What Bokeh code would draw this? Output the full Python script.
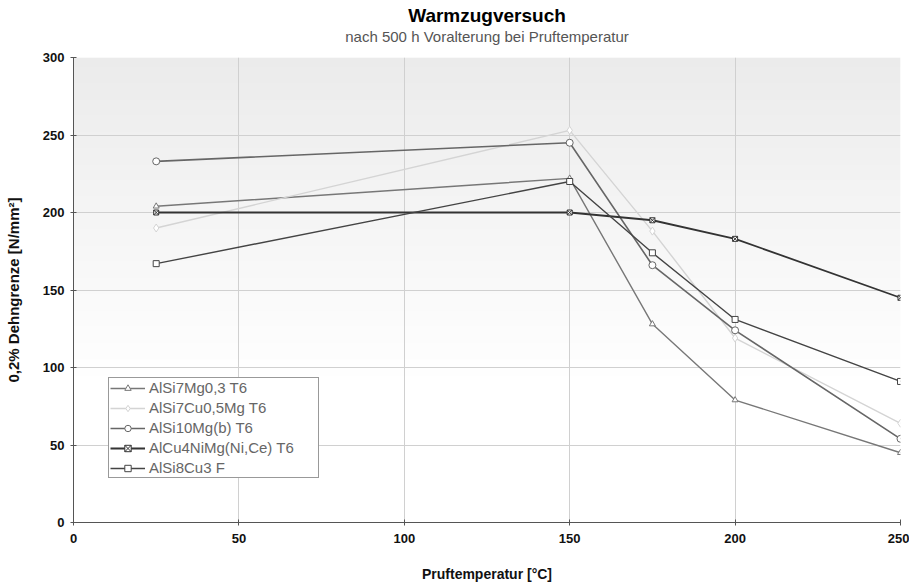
import numpy as np
from bokeh.plotting import figure
from bokeh.models import Title, Legend, LegendItem, FixedTicker
from bokeh.embed import file_html
from bokeh.resources import INLINE

temps = [25, 150, 175, 200, 250]
series_names = ["AlSi7Mg0,3 T6", "AlSi7Cu0,5Mg T6", "AlSi10Mg(b) T6", "AlCu4NiMg(Ni,Ce) T6", "AlSi8Cu3 F"]
alsi7mg = [204, 222, 128, 79, 45]
alsi7cu = [190, 253, 188, 119, 64]
alsi10mg = [233, 245, 166, 124, 54]
alcu4nimg = [200, 200, 195, 183, 145]
alsi8cu3 = [167, 220, 174, 131, 91]
x_ticks = [0, 50, 100, 150, 200, 250]
y_ticks = [0, 50, 100, 150, 200, 250, 300]

FONT = "Liberation Sans"

p = figure(width=909, height=575, x_range=(0, 250), y_range=(0, 300),
           output_backend="svg", toolbar_location=None,
           min_border_left=73, min_border_right=9, min_border_top=57, min_border_bottom=10)
p.frame_width = 827
p.frame_height = 465

# gradient background (light gray at top fading to white)
ny = 300
img = np.zeros((ny, 1), dtype=np.uint32)
view = img.view(dtype=np.uint8).reshape((ny, 1, 4))
for i in range(ny):
    t = i / (ny - 1)  # 0 bottom, 1 top
    f = max(0.0, (t - 0.3) / 0.7)
    c = int(round(255 - f * (255 - 235)))
    view[i, :, 0] = c
    view[i, :, 1] = c
    view[i, :, 2] = c
    view[i, :, 3] = 255
p.image_rgba(image=[img], x=0, y=0, dw=250, dh=300, level="image")

p.outline_line_color = None
p.background_fill_color = "white"
p.border_fill_color = "white"

sub = Title(text="nach 500 h Voralterung bei Pruftemperatur", align="center",
            text_font=FONT, text_font_size="15px", text_font_style="normal",
            text_color="#555555", standoff=25)
p.add_layout(sub, "above")
main = Title(text="Warmzugversuch", align="center", text_font=FONT,
             text_font_size="19px", text_font_style="bold", text_color="#000000",
             standoff=-24)
p.add_layout(main, "above")

for ax in (p.xaxis[0], p.yaxis[0]):
    ax.major_label_text_font = FONT
    ax.major_label_text_font_size = "13px"
    ax.major_label_text_font_style = "bold"
    ax.major_label_text_color = "#111111"
    ax.axis_label_text_font = FONT
    ax.axis_label_text_font_style = "bold"
    ax.axis_label_text_color = "#111111"
    ax.axis_line_color = "#555555"
    ax.major_tick_line_color = "#555555"
    ax.minor_tick_line_color = None
    ax.major_tick_in = 3
    ax.major_tick_out = 3

p.xaxis.axis_label_text_font_size = "14px"
p.yaxis.axis_label_text_font_size = "15px"
p.xaxis.ticker = FixedTicker(ticks=x_ticks)
p.yaxis.ticker = FixedTicker(ticks=y_ticks)
p.xaxis.axis_label = "Pruftemperatur [°C]"
p.yaxis.axis_label = "0,2% Dehngrenze [N/mm²]"
p.xaxis.axis_label_standoff = 20
p.yaxis.axis_label_standoff = 18
p.xaxis.major_label_standoff = 8
p.yaxis.major_label_standoff = 6

p.xgrid.grid_line_color = "#d0d0d0"
p.ygrid.grid_line_color = "#d0d0d0"

colors = ["#777777", "#d4d4d4", "#666666", "#333333", "#444444"]
markers = ["triangle", "diamond", "circle", "square_x", "square"]
sizes = [6, 8, 7, 5, 6]
data = [alsi7mg, alsi7cu, alsi10mg, alcu4nimg, alsi8cu3]
widths = [1.4, 1.4, 1.6, 1.8, 1.4]

items = []
for name, ys, col, mk, sz, lw in zip(series_names, data, colors, markers, sizes, widths):
    r1 = p.line(temps, ys, line_color=col, line_width=lw)
    r2 = p.scatter(temps, ys, marker=mk, size=sz, line_color=col, fill_color="white", line_width=1)
    items.append(LegendItem(label=name, renderers=[r1, r2]))

legend = Legend(items=items, location=(35, 44))
legend.label_text_font = FONT
legend.label_text_font_size = "15px"
legend.label_text_color = "#666666"
legend.border_line_color = "#333333"
legend.border_line_width = 1
legend.background_fill_color = "white"
legend.background_fill_alpha = 1
legend.padding = 1
legend.margin = 0
legend.spacing = 3
legend.glyph_width = 35
legend.glyph_height = 16
legend.label_height = 16
legend.label_width = 168
legend.label_standoff = 4
p.add_layout(legend, "center")

open("out.html", "w").write(file_html(p, INLINE))
